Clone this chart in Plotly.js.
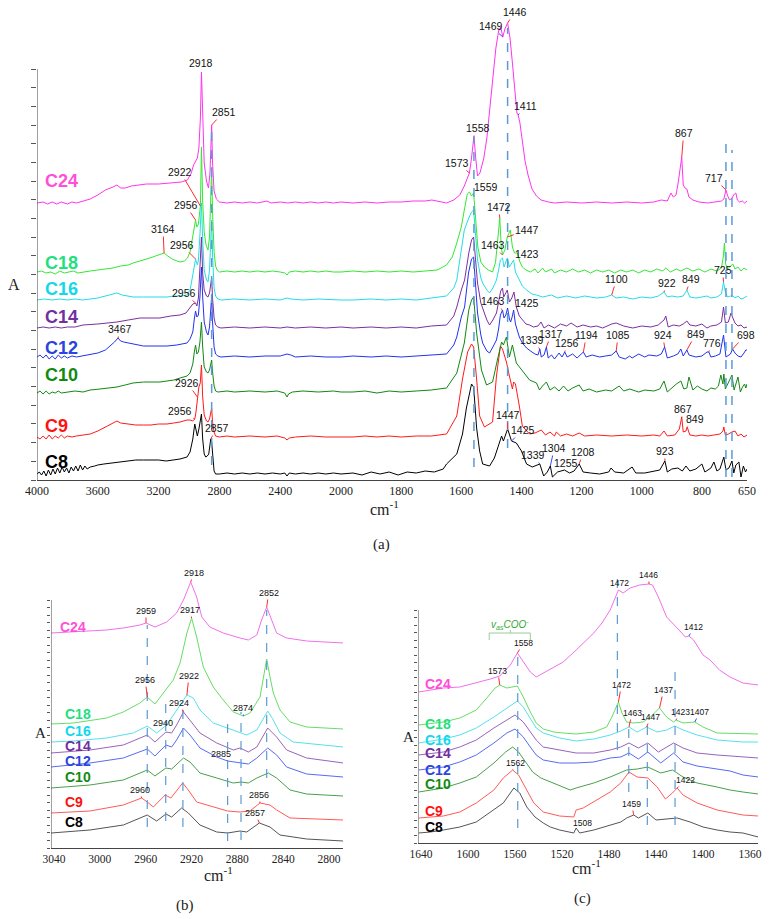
<!DOCTYPE html>
<html><head><meta charset="utf-8">
<script src="https://cdn.plot.ly/plotly-3.0.1.min.js"></script>
<style>body{margin:0;background:#fff}#chart{width:769px;height:919px}</style>
</head><body><div id="chart"></div>
<script>
// ---------------- series names ----------------
const names = ['C24','C18','C16','C14','C12','C10','C9','C8'];

// ---------------- panel (a): [wavenumber, absorbance above own baseline] ----------------
const offsetsA = [277, 208, 180, 152, 123, 88, 43, 6];
const PA_C24 = [[4000,0],[3960,1],[3930,-1],[3900,1],[3870,-1],[3840,1],[3800,-1],[3770,1],[3740,0],[3700,2],[3650,4],[3600,8],[3550,13],[3500,16],[3474,18],[3450,15],[3420,15],[3380,17],[3330,18],[3280,19],[3200,19],[3120,20],[3050,21],[3010,23],[2985,30],[2970,38],[2957,42],[2945,45],[2935,55],[2925,85],[2918,131],[2910,80],[2900,40],[2885,22],[2872,15],[2862,30],[2851,78],[2845,40],[2835,12],[2820,4],[2800,1],[2750,0],[2700,1],[2650,0],[2600,1],[2550,0],[2487,2],[2460,0],[2400,1],[2350,0],[2300,1],[2250,0],[2200,1],[2150,0],[2100,1],[2050,0],[2000,1],
[1960,0],[1920,1],[1880,0],[1840,1],[1800,1],[1760,2],[1720,2],[1698,3],[1670,1],[1649,0],[1625,3],[1605,8],[1590,17],[1580,25],[1573,30],[1566,45],[1558,67],[1552,45],[1546,27],[1538,30],[1525,45],[1515,65],[1505,95],[1495,125],[1485,155],[1476,172],[1469,176],[1462,166],[1455,174],[1446,180],[1438,165],[1430,140],[1422,108],[1415,90],[1411,88],[1405,80],[1397,62],[1388,42],[1378,28],[1365,14],[1350,7],[1335,3],[1310,1],[1290,0],[1250,1],[1200,0],[1150,1],[1100,0],[1050,1],[1000,0],[960,1],[935,3],[915,2],[903,10],[895,6],[886,8],[879,20],[873,36],[867,46],[862,18],[856,15],[850,14],[843,6],[830,3],[810,1],[780,0],[750,1],[735,2],[727,4],[720,13],[714,7],[708,3],[700,5],[692,9],[687,10],[682,3],[675,1],[665,2],[658,0],[650,2]];
const PA_C18 = [[4000,0],[3970,1],[3940,-1],[3910,0],[3880,-2],[3850,1],[3820,-1],[3790,0],[3760,1],[3730,-1],[3700,0],[3650,1],[3600,2],[3550,3],[3500,4],[3450,6],[3400,7],[3368,9],[3320,11],[3280,13],[3257,14],[3220,16],[3190,18],[3164,19],[3140,16],[3110,13],[3080,11],[3059,10],[3030,11],[3010,14],[2993,20],[2980,30],[2968,42],[2957,52],[2948,45],[2938,48],[2930,58],[2925,66],[2918,125],[2910,70],[2900,40],[2888,27],[2875,22],[2865,35],[2856,80],[2851,105],[2845,60],[2835,20],[2825,6],[2815,2],[2800,0],[2750,1],[2700,0],[2650,1],[2600,0],[2550,1],[2500,0],[2450,1],[2400,0],[2370,-1],[2355,-3],[2340,0],[2300,1],[2250,0],[2200,1],[2150,0],[2100,1],[2050,0],[2000,0],
[1960,1],[1920,0],[1880,1],[1840,0],[1800,1],[1760,0],[1720,1],[1680,2],[1649,7],[1630,15],[1615,29],[1600,45],[1590,62],[1580,78],[1573,80],[1566,76],[1559,79],[1552,50],[1545,25],[1535,10],[1523,5],[1510,2],[1496,0],[1486,10],[1480,30],[1472,54],[1467,25],[1463,17],[1455,22],[1447,35],[1437,42],[1430,25],[1423,19],[1413,19],[1405,10],[1397,5],[1385,2],[1370,0],[1355,3],[1345,-1],[1330,4],[1320,0],[1300,3],[1290,-1],[1270,2],[1250,0],[1230,3],[1210,0],[1190,2],[1170,-1],[1150,2],[1130,0],[1110,2],[1090,-1],[1070,2],[1050,0],[1030,2],[1010,-1],[990,2],[970,0],[950,3],[930,1],[920,4],[905,0],[885,3],[870,1],[850,4],[830,1],[810,3],[790,0],[770,3],[750,1],[735,4],[729,15],[725,29],[721,8],[715,3],[705,6],[697,8],[690,3],[680,5],[670,1],[660,4],[650,2]];
const PA_C16 = [[4000,0],[3950,1],[3900,0],[3850,1],[3800,0],[3750,1],[3700,0],[3650,1],[3600,2],[3550,4],[3500,6],[3474,7],[3440,5],[3400,4],[3368,3],[3300,3],[3200,3],[3145,3],[3100,4],[3050,4],[3013,5],[2993,10],[2975,25],[2957,41],[2945,35],[2938,40],[2928,65],[2918,97],[2910,60],[2900,30],[2885,20],[2875,18],[2865,30],[2856,65],[2851,80],[2845,45],[2835,12],[2825,4],[2810,1],[2790,0],[2700,1],[2600,0],[2500,1],[2400,0],[2355,2],[2330,1],[2250,0],[2150,1],[2050,0],[2000,0],
[1960,0],[1900,1],[1850,0],[1800,1],[1750,0],[1700,2],[1649,4],[1625,12],[1615,20],[1600,50],[1590,70],[1575,82],[1566,88],[1559,90],[1552,60],[1546,40],[1535,22],[1529,17],[1515,10],[1506,7],[1495,12],[1483,20],[1476,30],[1470,40],[1463,42],[1458,33],[1452,38],[1447,42],[1440,33],[1432,37],[1426,40],[1420,28],[1407,20],[1397,14],[1383,10],[1365,6],[1350,5],[1330,3],[1300,5],[1280,2],[1250,4],[1220,2],[1190,4],[1150,2],[1120,3],[1100,5],[1085,2],[1060,3],[1030,1],[1000,3],[970,2],[945,4],[926,8],[915,3],[900,4],[880,3],[862,4],[850,10],[840,3],[820,2],[800,3],[783,4],[770,2],[750,3],[735,6],[728,18],[722,8],[715,3],[705,4],[697,4],[690,2],[680,4],[670,1],[660,2],[650,4]];
const PA_C14 = [[4000,0],[3960,1],[3920,0],[3880,1],[3840,0],[3800,1],[3750,1],[3697,3],[3600,4],[3530,5],[3474,6],[3400,8],[3322,10],[3250,10],[3191,10],[3120,12],[3059,13],[3020,15],[2993,21],[2975,24],[2957,25],[2948,22],[2938,30],[2928,55],[2918,91],[2910,55],[2900,38],[2885,32],[2875,31],[2865,35],[2856,45],[2851,50],[2845,30],[2835,10],[2825,3],[2810,1],[2790,0],[2700,1],[2600,0],[2500,1],[2400,0],[2355,1],[2300,0],[2200,1],[2100,0],[2000,1],
[1960,0],[1900,1],[1850,0],[1800,1],[1750,0],[1700,2],[1649,3],[1625,12],[1615,21],[1600,38],[1589,48],[1575,75],[1566,88],[1559,91],[1552,65],[1546,45],[1535,25],[1529,20],[1515,8],[1506,3],[1495,8],[1483,15],[1475,28],[1469,37],[1463,40],[1459,31],[1452,35],[1447,38],[1440,26],[1432,30],[1425,36],[1417,21],[1407,12],[1397,8],[1385,4],[1373,3],[1360,1],[1345,2],[1335,6],[1325,0],[1310,3],[1290,0],[1270,4],[1250,2],[1235,5],[1215,1],[1195,3],[1170,1],[1150,2],[1130,0],[1100,4],[1085,5],[1060,2],[1030,0],[1000,2],[970,1],[945,3],[926,8],[920,12],[912,1],[895,3],[875,2],[862,4],[850,7],[840,3],[820,2],[800,4],[783,0],[770,2],[750,3],[735,6],[728,21],[722,5],[712,6],[703,15],[697,10],[690,5],[680,2],[670,3],[660,0],[650,1]];
const PA_C12 = [[4000,0],[3980,2],[3960,-1],[3940,2],[3920,-2],[3900,1],[3880,-2],[3860,2],[3840,-1],[3820,1],[3800,-1],[3770,1],[3740,0],[3700,1],[3650,2],[3600,4],[3550,7],[3510,12],[3490,15],[3467,19],[3450,16],[3430,15],[3400,14],[3350,12],[3300,11],[3250,11],[3200,11],[3145,11],[3080,12],[3030,13],[3013,14],[2993,18],[2975,25],[2965,38],[2957,46],[2948,40],[2938,42],[2928,60],[2918,90],[2910,60],[2900,35],[2885,25],[2875,22],[2865,30],[2856,50],[2851,60],[2845,35],[2835,10],[2825,3],[2810,1],[2790,0],[2700,1],[2600,0],[2500,1],[2400,1],[2355,3],[2330,2],[2300,0],[2200,1],[2100,0],[2000,0],
[1960,1],[1900,0],[1850,1],[1800,0],[1750,1],[1700,2],[1649,3],[1625,12],[1615,20],[1600,40],[1589,50],[1576,84],[1566,98],[1559,100],[1552,70],[1546,44],[1535,22],[1529,14],[1515,6],[1506,4],[1495,10],[1483,17],[1476,28],[1470,42],[1463,47],[1458,39],[1452,42],[1446,49],[1440,38],[1436,35],[1431,40],[1426,47],[1420,33],[1417,30],[1410,22],[1407,20],[1397,14],[1383,9],[1370,6],[1355,3],[1345,2],[1339,8],[1334,0],[1325,2],[1317,10],[1311,-1],[1300,2],[1290,-2],[1275,4],[1265,0],[1256,5],[1248,0],[1230,3],[1215,-1],[1194,5],[1185,0],[1165,2],[1140,0],[1120,1],[1100,2],[1085,6],[1075,0],[1055,-2],[1040,1],[1032,-1],[1010,3],[990,0],[976,2],[950,1],[935,3],[924,10],[915,-1],[895,1],[880,3],[870,8],[862,1],[850,7],[843,2],[820,0],[800,1],[783,5],[777,5],[770,0],[755,1],[740,3],[728,22],[720,0],[712,2],[705,3],[698,8],[690,4],[680,1],[670,0],[660,4],[654,7],[650,7]];
const PA_C10 = [[4000,-1],[3980,1],[3960,-2],[3940,1],[3920,-2],[3900,0],[3880,-1],[3860,1],[3840,-1],[3800,0],[3750,1],[3697,0],[3650,2],[3586,3],[3530,4],[3474,5],[3420,7],[3368,9],[3300,10],[3257,10],[3191,10],[3145,11],[3100,12],[3059,14],[3013,16],[2993,19],[2975,28],[2965,40],[2957,47],[2948,38],[2938,40],[2928,50],[2918,70],[2910,45],[2900,25],[2885,20],[2875,19],[2865,22],[2856,30],[2851,32],[2845,20],[2835,6],[2825,1],[2810,0],[2750,1],[2700,0],[2600,1],[2500,0],[2420,1],[2370,-1],[2355,-5],[2345,-2],[2320,0],[2250,1],[2150,0],[2050,1],[2000,0],
[1960,0],[1920,1],[1880,-1],[1840,1],[1800,0],[1750,1],[1700,2],[1649,4],[1615,19],[1590,49],[1575,82],[1566,92],[1559,95],[1549,59],[1533,22],[1516,7],[1496,10],[1480,32],[1466,50],[1460,47],[1450,55],[1440,35],[1430,47],[1417,29],[1400,22],[1373,12],[1350,9],[1340,2],[1330,6],[1317,10],[1305,2],[1290,5],[1275,1],[1260,6],[1245,1],[1230,4],[1208,7],[1195,1],[1175,3],[1150,0],[1120,2],[1100,1],[1075,6],[1060,1],[1040,3],[1010,0],[990,2],[960,1],[940,3],[926,11],[915,0],[900,4],[885,8],[870,11],[860,3],[850,4],[843,15],[830,2],[815,6],[800,3],[783,1],[770,4],[755,3],[745,6],[737,17],[730,8],[727,18],[722,3],[712,10],[700,17],[693,2],[687,7],[680,15],[672,0],[665,5],[658,8],[654,4],[650,8]];
const PA_C9 = [[4000,0],[3980,-2],[3960,1],[3940,-2],[3920,2],[3900,-2],[3880,1],[3860,-1],[3840,2],[3820,-1],[3800,1],[3770,0],[3740,1],[3700,2],[3650,3],[3600,6],[3550,10],[3500,14],[3474,16],[3450,14],[3400,13],[3350,12],[3300,12],[3250,12],[3200,13],[3145,13],[3100,14],[3059,15],[3013,17],[2993,17],[2975,16],[2962,18],[2955,24],[2945,40],[2935,50],[2926,54],[2918,72],[2910,40],[2900,22],[2885,16],[2875,15],[2865,18],[2856,26],[2851,29],[2845,15],[2835,5],[2825,1],[2800,0],[2750,1],[2700,0],[2600,1],[2500,0],[2420,1],[2370,-1],[2355,-3],[2340,-1],[2300,0],[2200,1],[2100,0],[2000,0],
[1960,0],[1920,1],[1880,0],[1840,1],[1800,0],[1750,1],[1700,1],[1649,3],[1615,21],[1596,58],[1579,85],[1566,93],[1559,90],[1549,58],[1539,21],[1523,10],[1496,15],[1483,61],[1470,91],[1463,88],[1460,85],[1450,75],[1440,61],[1430,48],[1426,55],[1420,53],[1407,31],[1397,11],[1373,3],[1355,4],[1334,7],[1320,2],[1305,5],[1290,1],[1284,5],[1270,1],[1250,3],[1230,1],[1208,4],[1190,1],[1150,2],[1100,1],[1050,2],[1000,1],[960,2],[940,1],[926,6],[915,1],[890,2],[875,8],[867,20],[862,5],[853,6],[849,10],[840,2],[820,1],[800,2],[780,1],[760,2],[740,3],[730,6],[727,10],[722,2],[712,3],[700,5],[690,6],[680,1],[670,3],[660,0],[650,2]];
const PA_C8 = [[4000,0],[3985,2],[3970,-1],[3955,3],[3940,-2],[3925,4],[3910,-1],[3895,5],[3880,0],[3865,6],[3850,1],[3835,7],[3820,2],[3805,6],[3790,1],[3775,7],[3760,3],[3745,8],[3730,3],[3715,9],[3700,4],[3685,8],[3670,5],[3650,7],[3620,8],[3600,9],[3560,10],[3500,11],[3450,12],[3400,13],[3350,14],[3300,14],[3250,14],[3200,14],[3150,13],[3100,14],[3059,15],[3013,17],[2993,22],[2975,35],[2962,50],[2955,45],[2945,38],[2935,45],[2925,55],[2918,60],[2910,35],[2900,20],[2890,17],[2880,18],[2870,20],[2862,28],[2857,35],[2851,32],[2843,12],[2835,3],[2825,0],[2800,0],[2750,1],[2700,0],[2650,1],[2600,0],[2550,1],[2500,0],[2450,1],[2400,0],[2370,1],[2355,-2],[2340,1],[2300,0],[2250,1],[2200,0],[2150,1],[2100,0],[2050,1],[2000,0],
[1960,1],[1930,-1],[1900,2],[1870,0],[1840,2],[1810,-1],[1780,2],[1750,1],[1720,3],[1690,2],[1660,5],[1649,10],[1615,20],[1596,40],[1583,66],[1566,90],[1559,87],[1549,46],[1539,23],[1529,10],[1506,8],[1490,16],[1466,38],[1460,33],[1446,45],[1433,33],[1417,31],[1400,23],[1383,10],[1364,7],[1339,10],[1326,-2],[1314,2],[1304,8],[1297,-3],[1280,2],[1257,4],[1240,1],[1225,3],[1208,10],[1195,2],[1170,1],[1140,0],[1110,2],[1102,6],[1090,2],[1060,1],[1032,7],[1020,1],[990,1],[960,3],[940,4],[923,13],[915,2],[900,5],[880,6],[865,3],[853,8],[840,3],[820,5],[800,10],[790,2],[770,6],[760,12],[750,3],[740,5],[727,17],[720,4],[710,6],[700,13],[694,1],[687,9],[677,12],[670,-3],[662,8],[655,2],[650,5]];

// ---------------- panel (b): [wavenumber, offset absorbance] ----------------
const PB_C24 = [[3042.6,215],[3023,216],[2994,218],[2979.5,220],[2965,223],[2959.7,225],[2951.9,221],[2941.7,226],[2933,235],[2927,248],[2920.7,266],[2915.5,251],[2911,231],[2904,221],[2892.3,215],[2877.7,210],[2870.4,208],[2863,213],[2858.8,228],[2854.4,241],[2850,228],[2845.7,215],[2837,210],[2819.5,207],[2787.5,205]];
const PB_C18 = [[3042.6,124],[3023,125],[2994,130],[2979.5,136],[2965,145],[2958.6,151],[2951.9,144],[2941.7,160],[2935.9,168],[2930,185],[2924,215],[2919.9,230],[2915.5,211],[2909.7,181],[2901,161],[2892.3,148],[2883.5,136],[2874.8,132],[2869,135],[2860.2,151],[2856.8,171],[2854.4,189],[2851.5,171],[2848.6,155],[2842.8,138],[2834,126],[2819.5,121],[2787.5,119]];
const PB_C16 = [[3042.6,106],[3023,107],[2994,110],[2970.8,115],[2958.6,122],[2950.4,115],[2941.7,123],[2933,138],[2924,153],[2918.4,150],[2912.6,138],[2901,125],[2889.3,120],[2877.7,115],[2871.8,113],[2863,118],[2853.5,137],[2848.6,128],[2842.8,115],[2831.2,106],[2787.5,101]];
const PB_C14 = [[3042.6,95],[3008.6,98],[2979.5,103],[2958.6,113],[2951.9,106],[2942.3,116],[2937.3,115],[2933,123],[2927,136],[2921.3,128],[2912.6,115],[2898,105],[2883.5,98],[2877.7,100],[2870.4,96],[2863,101],[2853.5,120],[2845.7,111],[2837,98],[2819.5,90],[2787.5,85]];
const PB_C12 = [[3042.6,81],[3008.6,85],[2979.5,90],[2958.6,99],[2951.9,92],[2942.3,103],[2937.3,101],[2933,108],[2927,120],[2921.3,113],[2912.6,100],[2898,91],[2888.5,87],[2877.7,85],[2870.4,84],[2863,90],[2853.5,100],[2845.7,93],[2837,81],[2819.5,74],[2787.5,71]];
const PB_C10 = [[3042.6,60],[3008.6,63],[2979.5,68],[2958.6,78],[2951.9,72],[2942.3,80],[2937.3,79],[2927,90],[2921.3,86],[2912.6,75],[2898,70],[2883.5,65],[2876.8,66],[2870.4,65],[2863,70],[2853,75],[2845.7,70],[2834,58],[2819.5,54],[2787.5,52]];
const PB_C9 = [[3042.6,35],[3008.6,37],[2979.5,43],[2963.5,50],[2958.6,46],[2953.3,41],[2943,53],[2938,50],[2927.7,65],[2922.8,58],[2915.5,46],[2898,40],[2888.5,37],[2877.7,36],[2869,37],[2860.2,45],[2851.5,43],[2845.7,38],[2834,30],[2787.5,28]];
const PB_C8 = [[3042.6,15],[3008.6,18],[2979.5,23],[2958.6,33],[2950.4,27],[2942.3,34],[2937.3,31],[2928.6,40],[2922.8,35],[2912.6,23],[2898,16],[2888.5,15],[2877.7,17],[2871.8,16],[2860.8,25],[2851.5,21],[2842.8,13],[2819.5,9],[2787.5,7]];

// ---------------- panel (c): [wavenumber, offset absorbance] ----------------
const PC_C24 = [[1642,151],[1621,155],[1607,156],[1593,160],[1581,164],[1573,167],[1564,178],[1558,190],[1553,181],[1547,171],[1542,166],[1536,170],[1527,176],[1519,181],[1508,193],[1493,210],[1486,220],[1479,233],[1472,253],[1468,250],[1462,255],[1454,258],[1446,259],[1443,258],[1438,246],[1431,226],[1422,215],[1415,206],[1412,207],[1408,203],[1400,188],[1394,183],[1386,173],[1377,166],[1366,160],[1353,158]];
const PC_C18 = [[1642,118],[1621,121],[1607,125],[1593,133],[1584,145],[1577,155],[1573,158],[1567,155],[1558,157],[1553,146],[1547,131],[1542,120],[1536,114],[1527,111],[1519,110],[1508,109],[1493,111],[1482,116],[1478,125],[1472,141],[1469,130],[1465,121],[1459,120],[1451,121],[1445,126],[1437,135],[1431,126],[1425,121],[1423,123],[1417,120],[1407,121],[1400,116],[1388,110],[1366,109],[1353,109]];
const PC_C16 = [[1642,100],[1621,104],[1607,108],[1593,115],[1578,126],[1567,135],[1561,140],[1558,142],[1553,136],[1547,125],[1542,115],[1536,110],[1522,105],[1508,102],[1493,104],[1479,108],[1470,112],[1463,116],[1456,111],[1448,116],[1439,111],[1431,113],[1424,117],[1417,113],[1405,108],[1388,103],[1366,101],[1353,101]];
const PC_C14 = [[1642,88],[1621,91],[1607,96],[1593,103],[1578,115],[1567,123],[1560,128],[1553,121],[1547,111],[1542,103],[1536,96],[1522,93],[1508,90],[1493,90],[1479,93],[1470,96],[1463,100],[1455,95],[1447,100],[1438,91],[1425,100],[1417,95],[1405,90],[1388,88],[1366,86],[1353,85]];
const PC_C12 = [[1642,73],[1621,76],[1607,81],[1593,88],[1578,100],[1567,110],[1560,114],[1553,106],[1547,96],[1542,88],[1536,83],[1522,80],[1508,80],[1493,81],[1479,85],[1470,86],[1463,90],[1455,84],[1447,91],[1436,80],[1425,90],[1417,81],[1405,77],[1388,74],[1377,72],[1366,68],[1353,66]];
const PC_C10 = [[1642,51],[1621,55],[1607,60],[1593,66],[1578,80],[1568,91],[1562,96],[1557,91],[1551,81],[1545,71],[1538,65],[1527,60],[1513,53],[1508,55],[1493,60],[1479,66],[1465,73],[1456,74],[1447,76],[1436,70],[1426,73],[1417,66],[1405,60],[1388,56],[1377,53],[1366,51],[1353,49]];
const PC_C9 = [[1642,25],[1621,27],[1607,31],[1593,40],[1578,53],[1570,65],[1562,73],[1557,68],[1551,55],[1544,40],[1536,31],[1522,27],[1510,26],[1508,33],[1502,35],[1491,43],[1479,51],[1470,60],[1463,71],[1456,66],[1447,65],[1439,56],[1432,44],[1426,50],[1422,55],[1417,48],[1405,40],[1388,33],[1366,28],[1353,27]];
const PC_C8 = [[1642,10],[1632,11],[1621,13],[1607,16],[1593,21],[1581,31],[1576,35],[1570,40],[1561,55],[1556,50],[1550,36],[1543,26],[1536,20],[1530,16],[1522,13],[1510,10],[1508,15],[1505,10],[1493,13],[1479,18],[1470,21],[1465,25],[1459,28],[1455,25],[1447,30],[1440,23],[1433,24],[1422,25],[1411,21],[1400,16],[1388,13],[1377,11],[1366,10],[1353,6]];

// ---------------- peak labels: [series, wavenumber, text, dx, dy, pointer] ----------------
const labelsA = [
 ['C24',2918,'2918',0,-9,''],['C24',2851,'2851',12,-13,'r'],['C18',2925,'2922',-20,-34,'r'],
 ['C18',2957,'2956',-10,-15,'r'],['C18',3164,'3164',-1,-24,'r'],['C16',2957,'2956',-14,-14,'r'],
 ['C14',2957,'2956',-12,-10,'r'],['C12',3467,'3467',2,-9,'r'],['C9',2945,'2926',-10,-14,'r'],
 ['C9',2962,'2956',-15,-8,'r'],['C8',2857,'2857',6,-11,'r'],
 ['C24',1446,'1446',7,-11,'r'],['C24',1462,'1469',-12,-11,'b'],['C24',1411,'1411',7,-9,'b'],
 ['C24',1558,'1558',4,-8,'r'],['C24',1573,'1573',-12,-10,'r'],['C18',1559,'1559',12,-6,'r'],
 ['C18',1472,'1472',-1,-11,'r'],['C18',1447,'1447',20,-7,'r'],['C18',1463,'1463',-10,-10,'r'],
 ['C18',1423,'1423',12,1,''],['C16',1100,'1100',5,-16,'r'],['C16',926,'922',3,-9,'r'],
 ['C16',850,'849',4,-11,'r'],['C16',728,'725',-1,-12,'r'],['C12',1463,'1463',-10,-9,'r'],
 ['C12',1426,'1425',13,-7,'r'],['C12',1339,'1339',-8,-9,'r'],['C12',1317,'1317',5,-13,'r'],
 ['C12',1256,'1256',2,-9,'r'],['C12',1194,'1194',3,-17,'r'],['C12',1085,'1085',2,-16,'r'],
 ['C12',924,'924',-2,-12,'r'],['C12',850,'849',9,-16,'r'],['C12',777,'776',3,-9,'r'],
 ['C12',698,'698',13,-14,'r'],['C8',1446,'1447',0,-14,'r'],['C8',1433,'1425',11,-11,'b'],
 ['C9',867,'867',1,-8,'r'],['C9',849,'849',8,-8,'r'],['C8',1304,'1304',4,-18,'b'],
 ['C8',1339,'1339',-7,-9,'b'],['C8',1208,'1208',4,-12,'r'],['C8',1257,'1255',2,-7,''],
 ['C8',923,'923',0,-10,'r'],['C24',720,'717',-12,-12,'r'],['C24',867,'867',2,-24,'r']
];
const labelsB = [
 ['C24',2920.7,'2918',3,-9,'r'],['C24',2854.4,'2852',2,-14,'r'],['C24',2959.7,'2959',0,-12,'r'],
 ['C18',2919.9,'2917',-2,-8,'r'],['C18',2958.6,'2956',-2,-17,'r'],['C16',2924,'2922',2,-19,'r'],
 ['C14',2927,'2924',-4,-9,'r'],['C14',2942.3,'2940',-3,-9,''],['C18',2874.8,'2874',0,-8,'b'],
 ['C12',2888.5,'2885',-7,-7,'r'],['C9',2963.5,'2960',-2,-8,'r'],['C9',2860.2,'2856',-1,-8,'r'],
 ['C8',2860.8,'2857',-4,-10,'r']
];
const labelsC = [
 ['C24',1446,'1446',0,-9,'r'],['C24',1472,'1472',1,-7,''],['C24',1412,'1412',5,-9,'b'],
 ['C24',1558,'1558',6,-10,'r'],['C18',1573,'1573',-2,-14,'r'],['C18',1472,'1472',3,-17,'r'],
 ['C18',1437,'1437',4,-18,'r'],['C16',1463,'1463',3,-14,'r'],['C16',1448,'1447',4,-10,'r'],
 ['C18',1423,'1423',4,-8,'r'],['C18',1407,'1407',5,-10,'b'],['C9',1562,'1562',3,-7,'r'],
 ['C9',1422,'1422',8,-8,'r'],['C8',1459,'1459',-2,-11,'r'],['C8',1508,'1508',6,-5,'r']
];

// ---------------- dashed reference lines: [wavenumber, from, to] ----------------
const refA = [[2851,15,350],[1558,13,343],[1446,32,452],[720,3,342],[700,3,330]];
const refB = [[2958.6,21,223],[2942.5,27,145],[2927.5,21,141],[2888.5,7,124],[2876.8,8,136],[2854.4,70,238]];
const refC = [[1557.7,15,195],[1472.9,93,268],[1463.2,51,120],[1447.4,18,120],[1423.8,18,176]];

// ---------------- styles ----------------
const colorsA  = ['#ff33ee','#33e833','#22dde8','#7b2f9f','#2233ee','#118811','#ff1a1a','#000000'];
const colorsBC = ['#f070ee','#66dd66','#55e0ee','#9a63bd','#5a6af0','#4a9f4a','#ff5a5a','#555555'];
const nameColors = ['#ff4fd8','#1fe07f','#11d8ea','#7030a0','#2a44dd','#128a12','#ff1111','#000000'];
const nameYA = [181,263,289,317,348,375,426,462];
const nameYB = [627,714,731,746,761,777,802,822];
const nameYC = [684,724,740,753,770,784,811,827];

const SANS = 'Liberation Sans, Arial, sans-serif';
const SERIF = 'Liberation Serif, Times New Roman, serif';
const W = 769, H = 919;
const px = x => x / W, py = y => 1 - y / H;

const dataA = [PA_C24,PA_C18,PA_C16,PA_C14,PA_C12,PA_C10,PA_C9,PA_C8];
const dataB = [PB_C24,PB_C18,PB_C16,PB_C14,PB_C12,PB_C10,PB_C9,PB_C8];
const dataC = [PC_C24,PC_C18,PC_C16,PC_C14,PC_C12,PC_C10,PC_C9,PC_C8];

const traces = [];
for (let i = names.length - 1; i >= 0; i--) {
  const left = dataA[i].filter(p => p[0] >= 2000), right = dataA[i].filter(p => p[0] <= 2000);
  const ln = {color: colorsA[i], width: 1};
  traces.push({type:'scatter', mode:'lines', x:left.map(p=>p[0]), y:left.map(p=>p[1]+offsetsA[i]), xaxis:'x', yaxis:'y', line:ln, hoverinfo:'skip'});
  traces.push({type:'scatter', mode:'lines', x:right.map(p=>p[0]), y:right.map(p=>p[1]+offsetsA[i]), xaxis:'x2', yaxis:'y', line:ln, hoverinfo:'skip'});
  const lb = {color: colorsBC[i], width: 1};
  traces.push({type:'scatter', mode:'lines', x:dataB[i].map(p=>p[0]), y:dataB[i].map(p=>p[1]), xaxis:'x3', yaxis:'y3', line:lb, hoverinfo:'skip'});
  traces.push({type:'scatter', mode:'lines', x:dataC[i].map(p=>p[0]), y:dataC[i].map(p=>p[1]), xaxis:'x4', yaxis:'y4', line:lb, hoverinfo:'skip'});
}

const annotations = [];
const shapes = [];
function addLabels(list, data, offs, xrefFn, yref, size) {
  list.forEach(([nm, key, txt, dx, dy, col]) => {
    const i = names.indexOf(nm);
    let best = data[i][0];
    for (const p of data[i]) if (Math.abs(p[0]-key) < Math.abs(best[0]-key)) best = p;
    annotations.push({x: best[0], y: best[1] + (offs ? offs[i] : 0), xref: xrefFn(best[0]), yref: yref,
      text: txt, showarrow: true, ax: dx, ay: dy, arrowhead: 0, arrowwidth: 1, standoff: 0,
      arrowcolor: col === 'r' ? '#ff2a2a' : col === 'b' ? '#2f4fff' : 'rgba(0,0,0,0)',
      font: {family: SANS, size: size, color: '#111'}});
  });
}
addLabels(labelsA, dataA, offsetsA, w => w >= 2000 ? 'x' : 'x2', 'y', 10.5);
addLabels(labelsB, dataB, null, () => 'x3', 'y3', 9);
addLabels(labelsC, dataC, null, () => 'x4', 'y4', 8.5);

function addRefs(list, xrefFn, yref, w) {
  list.forEach(([wn, a, b]) => shapes.push({type:'line', xref: xrefFn(wn), yref: yref, x0: wn, x1: wn, y0: a, y1: b,
    line: {color: '#5b9bd5', width: w, dash: 'dash'}}));
}
addRefs(refA, w => w >= 2000 ? 'x' : 'x2', 'y', 1.5);
addRefs(refB, () => 'x3', 'y3', 1.2);
addRefs(refC, () => 'x4', 'y4', 1.2);

// y axis lines (only the drawn portion of each panel)
shapes.push({type:'line', xref:'x', yref:'y', x0:4000, x1:4000, y0:0, y1:411, line:{color:'#444', width:1}});
shapes.push({type:'line', xref:'x3', yref:'y3', x0:3042.6, x1:3042.6, y0:0, y1:248, line:{color:'#444', width:1}});
shapes.push({type:'line', xref:'x4', yref:'y4', x0:1642.6, x1:1642.6, y0:0, y1:233, line:{color:'#444', width:1}});

// v_as COO- bracket in panel (c)
shapes.push({type:'path', xref:'x4', yref:'y4', path:'M1582,203 L1582,210 L1547,210 L1547,203', line:{color:'#99cc99', width:1}});
shapes.push({type:'line', xref:'x4', yref:'y4', x0:1564, x1:1564, y0:210, y1:213, line:{color:'#99cc99', width:1}});
annotations.push({xref:'x4', yref:'y4', x:1564, y:219, text:'<i>v<sub>as</sub>COO<sup>-</sup></i>', showarrow:false,
  font:{family:SANS, size:10, color:'#2faa2f'}});

// series names
names.forEach((nm, i) => {
  annotations.push({xref:'paper', yref:'paper', x:px(43), y:py(nameYA[i]), xanchor:'left', yanchor:'middle', showarrow:false,
    text:'<b>'+nm+'</b>', font:{family:SANS, size:18, color:nameColors[i]}});
  annotations.push({xref:'paper', yref:'paper', x:px(i===0?58:63), y:py(nameYB[i]), xanchor:'left', yanchor:'middle', showarrow:false,
    text:'<b>'+nm+'</b>', font:{family:SANS, size:14, color:nameColors[i]}});
  annotations.push({xref:'paper', yref:'paper', x:px(423), y:py(nameYC[i]), xanchor:'left', yanchor:'middle', showarrow:false,
    text:'<b>'+nm+'</b>', font:{family:SANS, size:14, color:nameColors[i]}});
});

// axis titles and panel letters
const txt = (x, y, t, s) => annotations.push({xref:'paper', yref:'paper', x:px(x), y:py(y), xanchor:'center', yanchor:'middle',
  showarrow:false, text:t, font:{family:SERIF, size:s, color:'#222'}});
txt(14, 285, 'A', 16); txt(40, 733, 'A', 15); txt(409, 737, 'A', 15);
txt(384, 508, 'cm<sup>-1</sup>', 16); txt(218, 874, 'cm<sup>-1</sup>', 16); txt(586, 867, 'cm<sup>-1</sup>', 16);
txt(381, 544, '(a)', 15); txt(185, 905, '(b)', 15); txt(582, 898, '(c)', 15);

function range(a, b, n) { const r = []; for (let k = 0; k <= n; k++) r.push(a + (b - a) * k / n); return r; }
const xBase = {showline:true, linecolor:'#444', linewidth:1, ticks:'', showgrid:false, zeroline:false, tickmode:'array',
  tickfont:{family:SERIF, size:12, color:'#222'}};
const yBase = {showline:false, showgrid:false, zeroline:false, showticklabels:false, ticks:'outside', tickcolor:'#555', tickmode:'array'};

const layout = {
  width: W, height: H, margin:{l:0, r:0, t:0, b:0}, paper_bgcolor:'#fff', plot_bgcolor:'rgba(0,0,0,0)', showlegend:false,
  xaxis: Object.assign({}, xBase, {domain:[px(37), px(341)], range:[4000,2000], anchor:'y', tickvals:[4000,3600,3200,2800,2400,2000]}),
  xaxis2: Object.assign({}, xBase, {domain:[px(341), px(747)], range:[2000,650], anchor:'y', tickvals:[1800,1600,1400,1200,1000,800,650]}),
  yaxis: Object.assign({}, yBase, {domain:[py(480), 1], range:[0,480], anchor:'x', ticklen:5, tickvals:range(0,411,22)}),
  xaxis3: Object.assign({}, xBase, {domain:[px(51), px(343)], range:[3042.6,2787.8], anchor:'y3', tickvals:[3040,3000,2960,2920,2880,2840,2800], tickfont:{family:SERIF, size:11.5, color:'#222'}}),
  yaxis3: Object.assign({}, yBase, {domain:[py(848), py(560)], range:[0,288], anchor:'x3', ticklen:3, tickvals:range(0,248,33)}),
  xaxis4: Object.assign({}, xBase, {domain:[px(418), px(758)], range:[1642.6,1353.2], anchor:'y4', tickvals:[1640,1600,1560,1520,1480,1440,1400,1360], tickfont:{family:SERIF, size:11.5, color:'#222'}}),
  yaxis4: Object.assign({}, yBase, {domain:[py(843), py(560)], range:[0,283], anchor:'x4', ticklen:3, tickvals:range(0,233,31)}),
  annotations: annotations, shapes: shapes
};

Plotly.newPlot('chart', traces, layout, {staticPlot:true, displayModeBar:false});
</script></body></html>
